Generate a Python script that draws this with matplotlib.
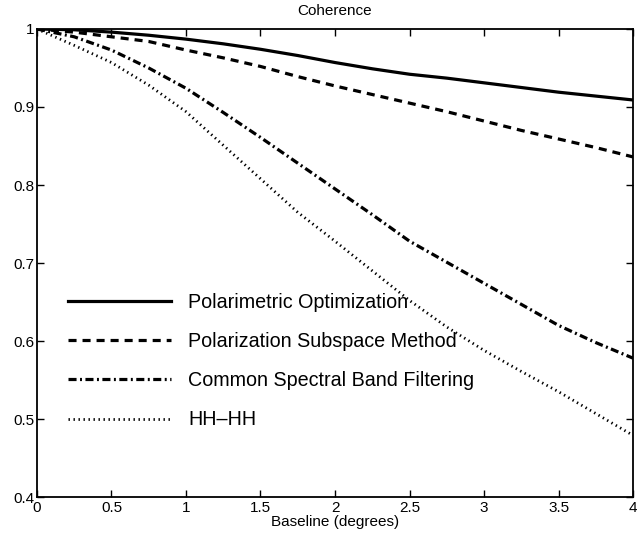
import numpy as np
from matplotlib import pyplot as plt
from matplotlib.ticker import FormatStrFormatter, MultipleLocator

plt.rcParams['font.family'] = ['Liberation Sans', 'DejaVu Sans']
plt.rcParams['lines.scale_dashes'] = False

# baseline in degrees
baseline = [0, 0.25, 0.5, 0.75, 1.0, 1.25, 1.5, 1.75, 2.0,
            2.25, 2.5, 2.75, 3.0, 3.25, 3.5, 3.75, 4.0]

polarimetric_opt = [1.0, 0.999, 0.996, 0.992, 0.987, 0.981, 0.974, 0.966, 0.957,
                    0.949, 0.942, 0.937, 0.931, 0.925, 0.919, 0.914, 0.909]
pol_subspace = [1.0, 0.996, 0.990, 0.984, 0.973, 0.963, 0.952, 0.939, 0.927,
                0.916, 0.905, 0.894, 0.882, 0.870, 0.859, 0.848, 0.836]
common_band = [1.0, 0.990, 0.973, 0.950, 0.924, 0.893, 0.861, 0.828, 0.795,
               0.762, 0.728, 0.701, 0.674, 0.647, 0.620, 0.598, 0.578]
hh_hh = [1.0, 0.979, 0.957, 0.928, 0.894, 0.851, 0.808, 0.765, 0.728,
         0.690, 0.652, 0.618, 0.588, 0.561, 0.535, 0.507, 0.479]

labels = ['Polarimetric Optimization', 'Polarization Subspace Method',
          'Common Spectral Band Filtering', 'HH\u2013HH']

fig = plt.figure(figsize=(6.43, 5.35), dpi=100)
ax = fig.add_axes([0.0575, 0.071, 0.927, 0.8748])

ax.plot(baseline, polarimetric_opt, color='black', lw=2.3, linestyle='-', label=labels[0])
ax.plot(baseline, pol_subspace, color='black', lw=2.3, linestyle=(0, (5.8, 4.3)), label=labels[1])
ax.plot(baseline, common_band, color='black', lw=2.3, linestyle=(0, (5.8, 2.5, 1.4, 2.5)), label=labels[2])
ax.plot(baseline, hh_hh, color='black', lw=2.0, linestyle=(0, (1.0, 2.6)), label=labels[3])

ax.set_xlim(0, 4)
ax.set_ylim(0.4, 1)
ax.xaxis.set_major_locator(MultipleLocator(0.5))
ax.yaxis.set_major_locator(MultipleLocator(0.1))
ax.xaxis.set_major_formatter(FormatStrFormatter('%g'))
ax.yaxis.set_major_formatter(FormatStrFormatter('%g'))
ax.tick_params(direction='in', top=True, right=True, length=5, width=1,
               labelsize=11, pad=2, colors='black')
ax.tick_params(axis='x', pad=3)
for s in ax.spines.values():
    s.set_linewidth(1.3)

ax.set_title('Coherence', fontsize=11, pad=10)
ax.set_xlabel('Baseline (degrees)', fontsize=11, labelpad=0)

ax.legend(loc='center left', bbox_to_anchor=(0.052, 0.29), frameon=False,
          fontsize=14.2, handlelength=5.2, handletextpad=0.9, labelspacing=1.02,
          borderpad=0, borderaxespad=0)

plt.savefig('out.png', dpi=100)
